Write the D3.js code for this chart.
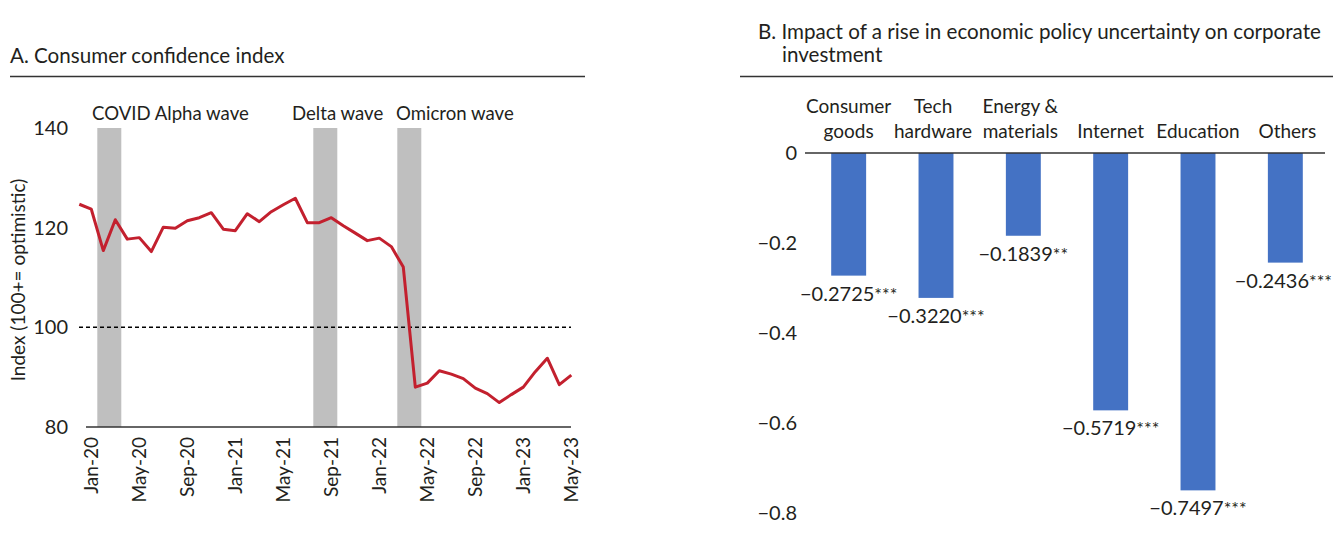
<!DOCTYPE html>
<html>
<head>
<meta charset="utf-8">
<script src="https://cdn.jsdelivr.net/npm/d3@7"></script>
<style>
  html, body { margin: 0; padding: 0; background: #fff; }
  svg { display: block; }
  text { font-family: Lato, "Noto Sans", sans-serif; fill: #231f20; }
</style>
</head>
<body>
<svg id="chart" width="1333" height="535"></svg>
<script>
// ---------- Panel A data ----------
const months = ["Dec-19","Jan-20","Feb-20","Mar-20","Apr-20","May-20","Jun-20","Jul-20","Aug-20","Sep-20","Oct-20","Nov-20","Dec-20",
  "Jan-21","Feb-21","Mar-21","Apr-21","May-21","Jun-21","Jul-21","Aug-21","Sep-21","Oct-21","Nov-21","Dec-21",
  "Jan-22","Feb-22","Mar-22","Apr-22","May-22","Jun-22","Jul-22","Aug-22","Sep-22","Oct-22","Nov-22","Dec-22",
  "Jan-23","Feb-23","Mar-23","Apr-23","May-23"];
const confidence = [124.7,123.7,115.4,121.6,117.7,118.0,115.2,120.1,119.9,121.4,122.0,123.0,119.7,
  119.4,122.8,121.2,123.2,124.6,125.9,121.0,121.0,122.0,120.4,118.9,117.4,
  117.9,116.2,112.1,88.0,88.8,91.3,90.6,89.7,87.8,86.7,84.9,86.5,
  88.0,91.1,93.8,88.5,90.4];
const xTickLabels = ["Jan-20","May-20","Sep-20","Jan-21","May-21","Sep-21","Jan-22","May-22","Sep-22","Jan-23","May-23"];
const yTicksA = [80, 100, 120, 140];
const waves = [
  {label: "COVID Alpha wave", start: "Feb-20", end: "Mar-20"},
  {label: "Delta wave", start: "Aug-21", end: "Sep-21"},
  {label: "Omicron wave", start: "Mar-22", end: "Apr-22"}
];
const neutralLevel = 100;

// ---------- Panel B data ----------
const sectors = [["Consumer","goods"],["Tech","hardware"],["Energy &","materials"],["Internet"],["Education"],["Others"]];
const impacts = [-0.2725,-0.3220,-0.1839,-0.5719,-0.7497,-0.2436];
const significance = ["***","***","**","***","***","***"];
const yTicksB = [0, -0.2, -0.4, -0.6, -0.8];

const svg = d3.select("#chart");
const minus = s => s.replace("-", "\u2212");

// ================= Panel A =================
const gA = svg.append("g");
gA.append("text").attr("x", 10).attr("y", 63).attr("font-size", 20.6).text("A. Consumer confidence index");
gA.append("line").attr("x1", 10).attr("x2", 585).attr("y1", 76.5).attr("y2", 76.5)
  .attr("stroke", "#333").attr("stroke-width", 1.3);

const xA = d3.scaleBand().domain(months).range([73.3, 577.3]).padding(0);
const yA = d3.scaleLinear().domain([80, 140]).range([427, 128]);
const cx = m => xA(m) + xA.bandwidth() / 2;

// wave bands
gA.selectAll("rect.wave").data(waves).enter().append("rect")
  .attr("class", "wave")
  .attr("x", d => xA(d.start))
  .attr("width", d => xA(d.end) + xA.bandwidth() - xA(d.start))
  .attr("y", yA(140))
  .attr("height", yA(80) - yA(140))
  .attr("fill", "#bfbfbf");

// wave labels
const waveLabelX = [92, 292, 396];
gA.selectAll("text.wave").data(waves).enter().append("text")
  .attr("x", (d, i) => waveLabelX[i]).attr("y", 120).attr("font-size", 18.6).text(d => d.label);

// y axis labels
gA.selectAll("text.ytA").data(yTicksA).enter().append("text")
  .attr("x", 68).attr("y", d => yA(d)).attr("dy", "0.35em").attr("text-anchor", "end")
  .attr("font-size", 20).text(d => d);

// y title
gA.append("text").attr("transform", `translate(25,${280}) rotate(-90)`)
  .attr("text-anchor", "middle").attr("font-size", 19).text("Index (100+= optimistic)");

// dashed reference line
gA.append("line").attr("x1", 79).attr("x2", 571).attr("y1", yA(neutralLevel)).attr("y2", yA(neutralLevel))
  .attr("stroke", "#000").attr("stroke-width", 1.5).attr("stroke-dasharray", "4,3");

// x axis line
gA.append("line").attr("x1", 86).attr("x2", 571).attr("y1", yA(80)).attr("y2", yA(80))
  .attr("stroke", "#333").attr("stroke-width", 1.5);

// x tick labels
gA.selectAll("text.xt").data(xTickLabels).enter().append("text")
  .attr("transform", d => `translate(${cx(d)},437) rotate(-90)`)
  .attr("text-anchor", "end").attr("dy", "0.35em").attr("font-size", 19).text(d => d);

// line
const lineGen = d3.line().x((d, i) => cx(months[i])).y(d => yA(d));
gA.append("path").datum(confidence).attr("d", lineGen)
  .attr("fill", "none").attr("stroke", "#c3202e").attr("stroke-width", 3).attr("stroke-linejoin", "round");

// ================= Panel B =================
const gB = svg.append("g");
gB.append("text").attr("x", 758).attr("y", 39).attr("font-size", 20.6)
  .text("B. Impact of a rise in economic policy uncertainty on corporate");
gB.append("text").attr("x", 782).attr("y", 62).attr("font-size", 20.6).text("investment");
gB.append("line").attr("x1", 740).attr("x2", 1333).attr("y1", 76.5).attr("y2", 76.5)
  .attr("stroke", "#333").attr("stroke-width", 1.3);

const xB = d3.scaleBand().domain(sectors.map(d => d.join(" "))).range([805, 1329]).paddingInner(0.6).paddingOuter(0.3);
const yB = d3.scaleLinear().domain([-0.8, 0]).range([513, 153]);

gB.selectAll("text.ytB").data(yTicksB).enter().append("text")
  .attr("x", 797).attr("y", d => yB(d)).attr("dy", "0.35em").attr("text-anchor", "end")
  .attr("font-size", 20).text(d => d === 0 ? "0" : minus(d3.format(".1f")(d)));

gB.selectAll("rect.bar").data(impacts).enter().append("rect")
  .attr("x", (d, i) => xB(sectors[i].join(" ")))
  .attr("width", xB.bandwidth())
  .attr("y", yB(0))
  .attr("height", d => yB(d) - yB(0))
  .attr("fill", "#4472c4");

gB.append("line").attr("x1", 805).attr("x2", 1325).attr("y1", yB(0)).attr("y2", yB(0))
  .attr("stroke", "#333").attr("stroke-width", 1.5);

// category labels
const catShift = [0, -3, -3, 0, 0, 2];
sectors.forEach((s, i) => {
  const c = xB(s.join(" ")) + xB.bandwidth() / 2 + catShift[i];
  const lines = s.length === 2 ? s : [null, s[0]];
  lines.forEach((t, j) => {
    if (t === null) return;
    gB.append("text").attr("x", c).attr("y", j === 0 ? 113 : 138).attr("text-anchor", "middle")
      .attr("font-size", 19).text(t);
  });
});

// value labels
const vals = gB.selectAll("text.val").data(impacts).enter().append("text")
  .attr("x", (d, i) => xB(sectors[i].join(" ")) + xB.bandwidth() / 2 - (i === 5 ? 2 : 0))
  .attr("y", d => yB(d) + 25)
  .attr("text-anchor", "middle").attr("font-size", 20);
vals.append("tspan").text(d => minus(d3.format(".4f")(d)));
vals.append("tspan").attr("font-size", 18).text((d, i) => significance[i]);
</script>
</body>
</html>
